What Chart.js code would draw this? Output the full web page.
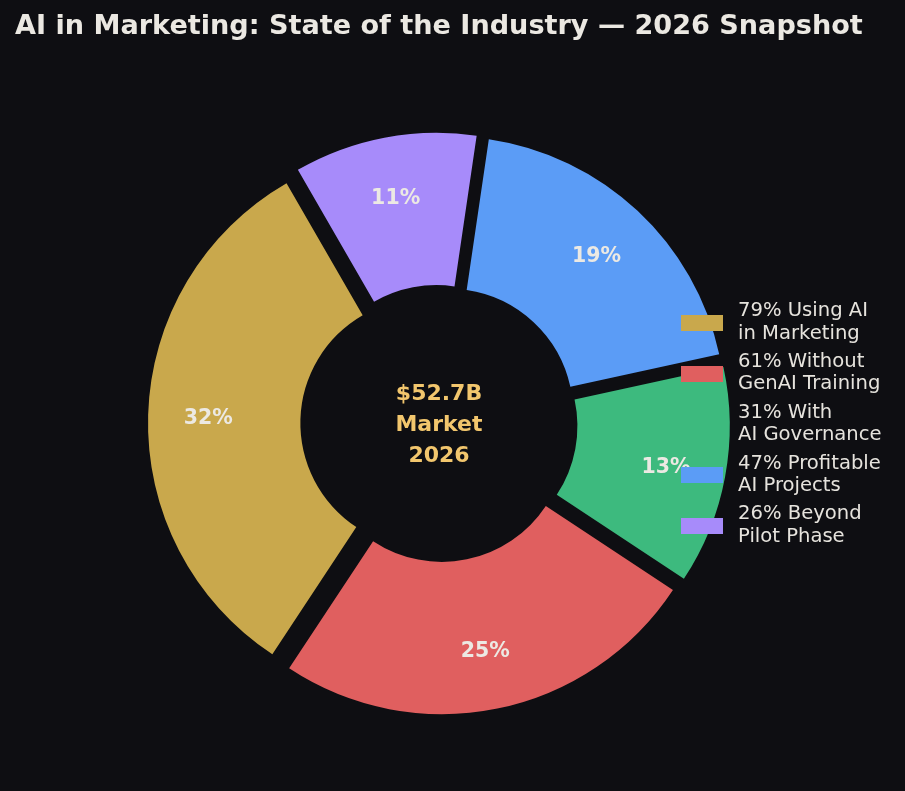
<!DOCTYPE html>
<html><head><meta charset="utf-8">
<script src="https://cdn.jsdelivr.net/npm/chart.js@4.4.1/dist/chart.umd.min.js"></script>
<style>
html,body{margin:0;padding:0;background:#0e0e12;}
#wrap{position:relative;width:905px;height:791px;background:#0e0e12;}
canvas{display:block;}
#legend{position:absolute;left:681px;top:299.3px;font-family:"DejaVu Sans",sans-serif;font-size:19.6px;line-height:22.3px;color:#e6e3dd;}
.item{position:relative;height:50.8px;padding-left:57px;white-space:nowrap;}
.sw{position:absolute;left:0;top:15.7px;width:42px;height:16px;}
</style></head>
<body><div id="wrap"><canvas id="c" width="905" height="791"></canvas><div id="legend"></div></div>
<script>
const chartTitle = 'AI in Marketing: State of the Industry — 2026 Snapshot';
const legendLabels = [
  ['79% Using AI', 'in Marketing'],
  ['61% Without', 'GenAI Training'],
  ['31% With', 'AI Governance'],
  ['47% Profitable', 'AI Projects'],
  ['26% Beyond', 'Pilot Phase']
];
const sliceValues = [79, 61, 31, 47, 26];
const centerLines = ['$52.7B', 'Market', '2026'];
const sliceColors = ['#c9a84c', '#e05f5f', '#3dba7e', '#5b9cf6', '#a78bfa'];

// matplotlib draws counter-clockwise from 120°; Chart.js draws clockwise, so reverse
const order = sliceValues.map((_, i) => i).reverse();
const dsData = order.map(i => sliceValues[i]);
const dsColors = order.map(i => sliceColors[i]);
const dsLabels = order.map(i => legendLabels[i].join(' '));
const total = sliceValues.reduce((a, b) => a + b, 0);

const explodePx = 14;
const explodePlugin = {
  id: 'explode',
  afterDatasetUpdate(chart, args) {
    chart.getDatasetMeta(args.index).data.forEach(arc => {
      const mid = (arc.startAngle + arc.endAngle) / 2;
      arc.x += Math.cos(mid) * explodePx;
      arc.y += Math.sin(mid) * explodePx;
    });
  }
};
const textPlugin = {
  id: 'texts',
  afterDatasetsDraw(chart) {
    const ctx = chart.ctx;
    const meta = chart.getDatasetMeta(0);
    ctx.save();
    ctx.font = 'bold 20.5px "DejaVu Sans"';
    ctx.fillStyle = '#ece9e3';
    ctx.textAlign = 'center';
    ctx.textBaseline = 'middle';
    meta.data.forEach((arc, i) => {
      const mid = (arc.startAngle + arc.endAngle) / 2;
      const r = arc.outerRadius * 0.783;
      const pct = Math.round(dsData[i] / total * 100);
      ctx.fillText(pct + '%', arc.x + Math.cos(mid) * r, arc.y + Math.sin(mid) * r + 2);
    });
    const a = chart.chartArea;
    const cx = (a.left + a.right) / 2, cy = (a.top + a.bottom) / 2;
    ctx.font = 'bold 22px "DejaVu Sans"';
    ctx.fillStyle = '#f2c66d';
    ctx.textBaseline = 'alphabetic';
    centerLines.forEach((t, i) => ctx.fillText(t, cx, cy + (i - 1) * 31 + 7.5));
    ctx.restore();
  }
};

new Chart(document.getElementById('c'), {
  type: 'doughnut',
  data: { labels: dsLabels, datasets: [{ data: dsData, backgroundColor: dsColors, borderWidth: 0 }] },
  options: {
    responsive: false,
    animation: false,
    events: [],
    rotation: -30,
    radius: 277,
    cutout: '45%',
    layout: { padding: { left: 15, right: 42, top: 0, bottom: 26 } },
    plugins: {
      legend: { display: false },
      tooltip: { enabled: false },
      title: {
        display: true, text: chartTitle, align: 'start', color: '#ebe8e2',
        font: { family: 'DejaVu Sans', size: 27.1, weight: 'bold' },
        padding: { top: 10.5, bottom: 39 }
      }
    }
  },
  plugins: [explodePlugin, textPlugin]
});

const legendEl = document.getElementById('legend');
legendLabels.forEach((lines, i) => {
  const item = document.createElement('div');
  item.className = 'item';
  const sw = document.createElement('span');
  sw.className = 'sw';
  sw.style.background = sliceColors[i];
  item.appendChild(sw);
  lines.forEach((l, j) => {
    if (j) item.appendChild(document.createElement('br'));
    item.appendChild(document.createTextNode(l));
  });
  legendEl.appendChild(item);
});
</script>
</body></html>
